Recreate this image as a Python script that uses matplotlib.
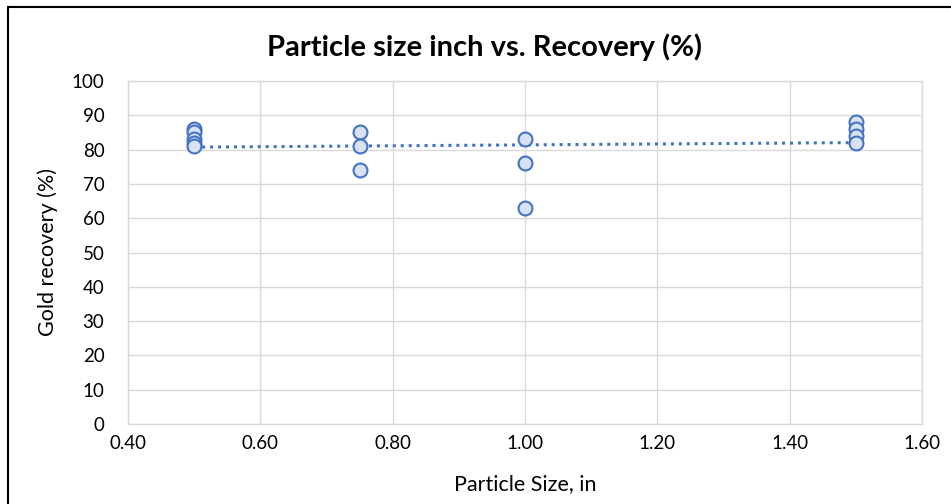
import matplotlib
matplotlib.use("Agg")
import matplotlib.pyplot as plt
import numpy as np
from matplotlib.lines import Line2D

plt.rcParams['font.family'] = ['Lato', 'DejaVu Sans']

size_in = [0.50, 0.50, 0.50, 0.50, 0.50, 0.75, 0.75, 0.75, 1.00, 1.00, 1.00, 1.50, 1.50, 1.50, 1.50]
recovery = [86, 85, 83, 82, 81, 85, 81, 74, 83, 76, 63, 88, 86, 84, 82]
x_ticks = [0.40, 0.60, 0.80, 1.00, 1.20, 1.40, 1.60]
y_ticks = [0, 10, 20, 30, 40, 50, 60, 70, 80, 90, 100]

fig = plt.figure(figsize=(9.51, 5.04), dpi=100)
ax = fig.add_axes([128/951, 1-424/504, (922-128)/951, (424-81)/504])

ax.scatter(size_in, recovery, s=100, facecolor='#d9e2f3', edgecolor='#4472c4', linewidth=1.5, zorder=3)

coef = np.polyfit(size_in, recovery, 1)
xs = np.array([min(size_in), max(size_in)])
ax.plot(xs, np.polyval(coef, xs), color='#4472c4', linestyle=(0, (1, 1.6)), linewidth=2.2, zorder=2)

ax.set_xlim(0.40, 1.60)
ax.set_ylim(0, 100)
ax.set_xticks(x_ticks)
ax.set_xticklabels([f"{v:.2f}" for v in x_ticks])
ax.set_yticks(y_ticks)
ax.grid(True, color='#d9d9d9', linewidth=1)
ax.set_axisbelow(True)
for s in ax.spines.values():
    s.set_color('#d9d9d9')
    s.set_linewidth(1)
ax.tick_params(length=0, labelsize=13.5, colors='#000000')
ax.tick_params(axis='x', pad=8)
ax.tick_params(axis='y', pad=17)

ax.set_xlabel('Particle Size, in', fontsize=15.5, labelpad=16)
ax.set_ylabel('Gold recovery (%)', fontsize=15.5, labelpad=10)
fig.text(484/951, 1-47/504, 'Particle size inch vs. Recovery (%)', ha='center', va='center',
         fontsize=21, fontweight='bold')

# outer frame (top and left visible)
fig.add_artist(Line2D([8/951, 8/951], [0, 1-7/504], transform=fig.transFigure, color='black', linewidth=1.5))
fig.add_artist(Line2D([8/951, 1], [1-7/504, 1-7/504], transform=fig.transFigure, color='black', linewidth=1.5))

fig.savefig('out.png', dpi=100)
